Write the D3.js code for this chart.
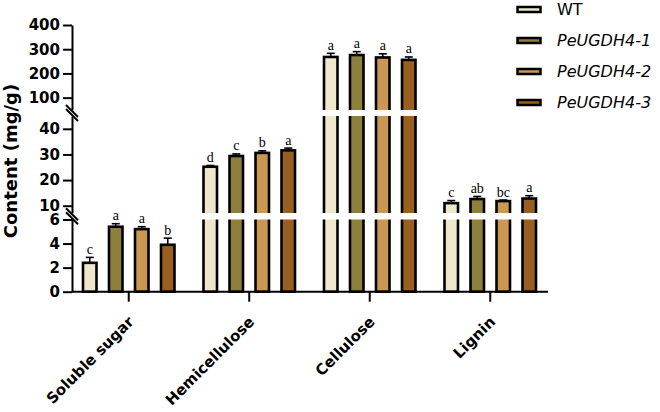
<!DOCTYPE html>
<html>
<head>
<meta charset="utf-8">
<script src="https://cdn.jsdelivr.net/npm/d3@7"></script>
<style>
  html, body { margin: 0; padding: 0; background: #fff; }
  svg { display: block; }
</style>
</head>
<body>
<script>
// ---------- data ----------
const categories = ["Soluble sugar", "Hemicellulose", "Cellulose", "Lignin"];
const seriesNames = ["WT", "PeUGDH4-1", "PeUGDH4-2", "PeUGDH4-3"];
const wtValues    = [2.4, 25.2, 268, 11.0];
const ugdh1Values = [5.4, 29.4, 276, 12.6];
const ugdh2Values = [5.2, 30.6, 266, 11.8];
const ugdh3Values = [3.9, 31.6, 256, 12.8];
const wtErr    = [0.45, 0.5, 15, 1.0];
const ugdh1Err = [0.25, 0.8, 14, 1.0];
const ugdh2Err = [0.2, 0.8, 15, 0.4];
const ugdh3Err = [0.55, 0.9, 12, 1.1];
const wtSig    = ["c", "d", "a", "c"];
const ugdh1Sig = ["a", "c", "a", "ab"];
const ugdh2Sig = ["a", "b", "a", "bc"];
const ugdh3Sig = ["b", "a", "a", "a"];
const lowTicks = [0, 2, 4, 6];
const midTicks = [10, 20, 30, 40];
const highTicks = [100, 200, 300, 400];
const colors = ["#EEE7C9", "#8D7F3C", "#CB9753", "#985F20"];

const values = [wtValues, ugdh1Values, ugdh2Values, ugdh3Values];
const errs = [wtErr, ugdh1Err, ugdh2Err, ugdh3Err];
const sigs = [wtSig, ugdh1Sig, ugdh2Sig, ugdh3Sig];

// ---------- layout ----------
const svg = d3.select("body").append("svg").attr("width", 660).attr("height", 412);
const axisX = 72, baseY = 291.7;

// broken y-axis: three linear scales
const yLow = d3.scaleLinear().domain([0, 6]).range([baseY, 219.5]);
const yMid = d3.scaleLinear().domain([7.15, 45]).range([213, 116]);
const yHigh = d3.scaleLinear().domain([49, 400]).range([110, 25]);
const y = v => v <= 6 ? yLow(v) : (v <= 45 ? yMid(v) : yHigh(v));

const x = d3.scaleBand().domain(categories).range([68.5, 550.5]);
const xInner = d3.scalePoint().domain(seriesNames).range([-39, 39]);
const barW = 13.5;

const data = [];
categories.forEach((c, ci) => {
  seriesNames.forEach((s, si) => {
    data.push({c, s, si, v: values[si][ci], e: errs[si][ci], sig: sigs[si][ci]});
  });
});
const cx = d => x(d.c) + x.bandwidth() / 2 + xInner(d.s);

// bars
svg.append("g").selectAll("rect").data(data).join("rect")
  .attr("x", d => cx(d) - barW / 2)
  .attr("y", d => y(d.v))
  .attr("width", barW)
  .attr("height", d => baseY - y(d.v))
  .attr("fill", d => colors[d.si])
  .attr("stroke", "#000")
  .attr("stroke-width", 2.6);

// error bars
const eg = svg.append("g").attr("stroke", "#000").attr("stroke-width", 1.6);
eg.selectAll("line.v").data(data).join("line").attr("class", "v")
  .attr("x1", cx).attr("x2", cx)
  .attr("y1", d => y(d.v)).attr("y2", d => y(d.v + d.e));
eg.selectAll("line.h").data(data).join("line").attr("class", "h")
  .attr("x1", d => cx(d) - 4).attr("x2", d => cx(d) + 4)
  .attr("y1", d => y(d.v + d.e)).attr("y2", d => y(d.v + d.e));

// white gaps across the plot
[[yMid.range()[0], yLow.range()[1]], [yHigh.range()[0], yMid.range()[1]]].forEach(([a, b]) => {
  svg.append("rect").attr("x", axisX + 2).attr("y", a).attr("width", 480).attr("height", b - a).attr("fill", "#fff");
});

// significance letters
svg.append("g").selectAll("text").data(data).join("text")
  .attr("x", cx)
  .attr("y", d => y(d.v + d.e) - 3.5)
  .attr("text-anchor", "middle")
  .attr("font-family", "'Liberation Serif', 'Times New Roman', serif")
  .attr("font-size", 14)
  .attr("fill", "#000")
  .text(d => d.sig);

// y axis segments
[[yLow, lowTicks], [yMid, midTicks], [yHigh, highTicks]].forEach(([sc, tv]) => {
  const g = svg.append("g").attr("transform", `translate(${axisX},0)`)
    .call(d3.axisLeft(sc).tickValues(tv).tickFormat(d3.format("d")).tickSize(9).tickSizeOuter(0).tickPadding(3));
  g.selectAll("path, line").attr("stroke", "#000").attr("stroke-width", 2);
  g.selectAll("text").attr("font-family", "'DejaVu Sans', sans-serif").attr("font-weight", "bold")
    .attr("font-size", 15).attr("fill", "#000");
});

// break marks
[(yMid.range()[0] + yLow.range()[1]) / 2, (yHigh.range()[0] + yMid.range()[1]) / 2].forEach(gc => {
  [-2, 2].forEach(off => {
    svg.append("line")
      .attr("x1", axisX - 6).attr("y1", gc - 6 + off)
      .attr("x2", axisX + 6).attr("y2", gc + 6 + off)
      .attr("stroke", "#000").attr("stroke-width", 2);
  });
});

// x axis
const xg = svg.append("g").attr("transform", `translate(0,${baseY})`)
  .call(d3.axisBottom(x).tickSize(10).tickSizeOuter(0));
xg.select(".domain").remove();
xg.selectAll("line").attr("stroke", "#000").attr("stroke-width", 2);
xg.append("line").attr("x1", axisX).attr("x2", 548).attr("stroke", "#000").attr("stroke-width", 2);
xg.selectAll("text")
  .attr("font-family", "'DejaVu Sans', sans-serif").attr("font-weight", "bold")
  .attr("font-size", 15).attr("fill", "#000")
  .attr("text-anchor", "end")
  .attr("y", 0).attr("dy", 0)
  .attr("transform", "translate(6,31) rotate(-45)");

// y title
svg.append("text")
  .attr("transform", "translate(17,161) rotate(-90)")
  .attr("text-anchor", "middle")
  .attr("font-family", "'DejaVu Sans', sans-serif").attr("font-weight", "bold")
  .attr("font-size", 18)
  .attr("fill", "#000")
  .text("Content (mg/g)");

// legend
const ly = d3.scalePoint().domain(seriesNames).range([9.5, 102.5]);
const lg = svg.append("g").selectAll("g").data(seriesNames).join("g")
  .attr("transform", d => `translate(0,${ly(d)})`);
lg.append("rect").attr("x", 517.5).attr("y", -2.5).attr("width", 23).attr("height", 5)
  .attr("fill", (d, i) => colors[i]).attr("stroke", "#000").attr("stroke-width", 2.5);
lg.append("text").attr("x", 557).attr("y", 5.5)
  .attr("font-family", "'DejaVu Sans', sans-serif").attr("font-size", 16)
  .attr("font-style", (d, i) => i === 0 ? "normal" : "italic")
  .attr("fill", "#000")
  .text(d => d);
</script>
</body>
</html>
